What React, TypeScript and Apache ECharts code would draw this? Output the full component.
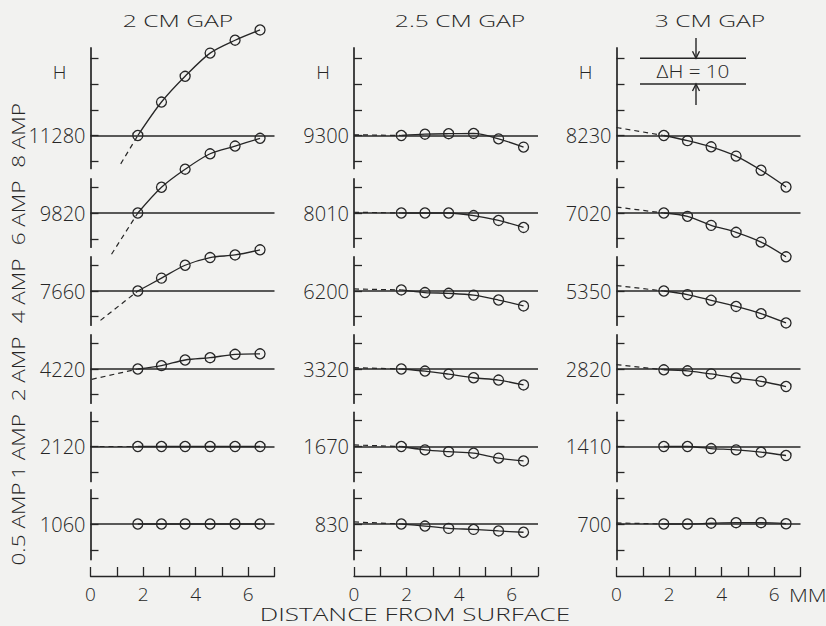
import React, { useEffect, useRef } from "react";
import * as echarts from "echarts";

// ---------- data ----------
const distanceMm = [1.8, 2.7, 3.6, 4.55, 5.5, 6.45];
const currentLabels = ["8 AMP", "6 AMP", "4 AMP", "2 AMP", "1 AMP", "0.5 AMP"];
const gapTitles = ["2 CM GAP", "2.5 CM GAP", "3 CM GAP"];
const xTickLabels = [0, 2, 4, 6];

// 2 cm gap
const baselines2cm = [11280, 9820, 7660, 4220, 2120, 1060];
const h2cm = [
  [11280, 11293, 11303, 11312, 11317, 11321],
  [9820, 9830, 9837, 9843, 9846, 9849],
  [7660, 7665, 7670, 7673, 7674, 7676],
  [4220, 4221.3, 4223.5, 4224.4, 4225.7, 4225.9],
  [2120, 2120, 2120, 2120, 2120, 2120],
  [1060, 1060, 1060, 1060, 1060, 1060],
];
const dash2cm = [[1.15, 11269], [0.8, 9804], [0.38, 7648.6], [0.05, 4216], [0, 2120], null];

// 2.5 cm gap
const baselines25cm = [9300, 8010, 6200, 3320, 1670, 830];
const h25cm = [
  [9300, 9300.5, 9300.7, 9300.8, 9298.7, 9295.5],
  [8010, 8010, 8010, 8009, 8007.1, 8004.4],
  [6200.4, 6199.4, 6199.1, 6198.4, 6196.5, 6194.2],
  [3320, 3319.2, 3318, 3316.6, 3315.7, 3313.8],
  [1670, 1668.7, 1668, 1667.4, 1665.5, 1664.4],
  [830, 829.2, 828.3, 827.9, 827.3, 826.8],
];
const dash25cm = [[0, 9300.3], [0, 8010.3], [0, 6200.8], [0, 3320.5], [0, 1670.6], [0, 830.8]];

// 3 cm gap
const baselines3cm = [8230, 7020, 5350, 2820, 1410, 700];
const h3cm = [
  [8230, 8228, 8225.6, 8222, 8216.5, 8210],
  [7020, 7018.7, 7015.2, 7012.5, 7008.7, 7003],
  [5350, 5348.6, 5346.4, 5344, 5341.2, 5337.6],
  [2819.7, 2819.3, 2818.1, 2816.5, 2815.2, 2813.2],
  [1410, 1410, 1409.2, 1408.7, 1407.8, 1406.5],
  [700, 700, 700.3, 700.5, 700.5, 700.1],
];
const dash3cm = [[0, 8233.1], [0, 7022.3], [0, 5352.1], [0, 2821.7], null, [0, 700.4]];

const panels = [
  { baselines: baselines2cm, values: h2cm, dashFrom: dash2cm },
  { baselines: baselines25cm, values: h25cm, dashFrom: dash25cm },
  { baselines: baselines3cm, values: h3cm, dashFrom: dash3cm },
];

// ---------- layout / style ----------
const INK = "#262626";
const BG = "#f2f2f0";
const FONT = "'Open Sans', 'DejaVu Sans', sans-serif";
const WEIGHT = 300;
const AXIS_LEFT = [90.5, 354, 616.5];
const AXIS_WIDTH = 184;
const BASE_Y = [135.5, 213, 291, 369, 446.5, 524];
const PX_PER_H = 2.575;
const UP = [34, 13.3, 13.3, 13.3, 13.3, 13.3];
const DOWN = [12.8, 13.3, 13.3, 13.3, 13.6, 13.8];
const X_AXIS_Y = 576;
const TITLE_POS = [[178, 20], [460, 20], [710, 20]];

function buildOption() {
  const grid: any[] = [];
  const xAxis: any[] = [];
  const yAxis: any[] = [];
  const series: any[] = [];

  panels.forEach((p, c) => {
    p.baselines.forEach((base, r) => {
      const i = grid.length;
      const top = BASE_Y[r] - UP[r] * PX_PER_H;
      const height = (UP[r] + DOWN[r]) * PX_PER_H;
      grid.push({ left: AXIS_LEFT[c], top, width: AXIS_WIDTH, height, containLabel: false, outerBoundsMode: "none" });
      const isBottom = r === p.baselines.length - 1;
      xAxis.push({
        gridIndex: i,
        type: "value",
        min: 0,
        max: 7,
        interval: 1,
        show: isBottom,
        offset: isBottom ? X_AXIS_Y - (top + height) : 0,
        axisLine: { show: true, onZero: false, lineStyle: { color: INK, width: 1.4 } },
        axisTick: { show: true, inside: true, length: 9, lineStyle: { color: INK, width: 1.3 } },
        axisLabel: {
          show: true,
          margin: 8,
          color: INK,
          fontSize: 19,
          fontWeight: WEIGHT,
          fontFamily: FONT,
          formatter: (v: number) => (xTickLabels.indexOf(v) >= 0 ? String(v) : ""),
        },
        splitLine: { show: false },
      });
      const ticks = r === 0 ? [base - 10, base, base + 10, base + 20, base + 30] : [base - 10, base, base + 10];
      yAxis.push({
        gridIndex: i,
        type: "value",
        min: base - DOWN[r],
        max: base + UP[r],
        axisLine: { show: true, onZero: false, lineStyle: { color: INK, width: 1.7 } },
        axisTick: { show: true, inside: true, length: 8, customValues: ticks, lineStyle: { color: INK, width: 1.3 } },
        axisLabel: {
          show: true,
          customValues: [base],
          formatter: (v: number) => String(Math.round(v)),
          margin: 5,
          fontSize: 20,
          fontWeight: WEIGHT,
          color: INK,
          fontFamily: FONT,
        },
        splitLine: { show: false },
      });
      series.push({
        type: "line",
        xAxisIndex: i,
        yAxisIndex: i,
        data: distanceMm.map((x, k) => [x, p.values[r][k]]),
        smooth: 0.3,
        clip: false,
        symbol: "circle",
        symbolSize: 10,
        itemStyle: { color: "rgba(0,0,0,0)", borderColor: INK, borderWidth: 1.3 },
        lineStyle: { color: INK, width: 1.3 },
        emphasis: { disabled: true },
        silent: true,
        markLine: {
          silent: true,
          symbol: ["none", "none"],
          label: { show: false },
          lineStyle: { color: INK, width: 1.5, type: "solid" },
          data: [{ yAxis: base }],
        },
      });
      const d = p.dashFrom[r];
      if (d) {
        series.push({
          type: "line",
          xAxisIndex: i,
          yAxisIndex: i,
          data: [d, [distanceMm[0], p.values[r][0]]],
          symbol: "none",
          clip: false,
          silent: true,
          lineStyle: { color: INK, width: 1.2, type: [5, 4] },
          emphasis: { disabled: true },
        });
      }
    });
  });

  const txt = (text: string, x: number, y: number, fontSize: number, extra: any = {}, align = "center") => ({
    type: "text",
    x,
    y,
    silent: true,
    ...extra,
    style: { text, fontSize, fontWeight: WEIGHT, fontFamily: FONT, fill: INK, align, verticalAlign: "middle" },
  });

  const graphic: any[] = [];
  gapTitles.forEach((t, c) => graphic.push(txt(t, TITLE_POS[c][0], TITLE_POS[c][1], 17, { scaleX: 1.45 })));
  AXIS_LEFT.forEach((ax) => graphic.push(txt("H", ax - 31, 72, 19)));
  currentLabels.forEach((t, r) => graphic.push(txt(t, 18, BASE_Y[r], 18, { rotation: Math.PI / 2, scaleX: 1.25 })));
  graphic.push(txt("DISTANCE FROM SURFACE", 415, 614, 18, { scaleX: 1.45 }));
  graphic.push(txt("MM", 789, 595, 19, { scaleX: 1.15 }, "left"));

  // ΔH = 10 scale note (panel 3, top)
  const y30 = BASE_Y[0] - 30 * PX_PER_H;
  const y20 = BASE_Y[0] - 20 * PX_PER_H;
  const ax = 696;
  const ln = { stroke: INK, lineWidth: 1.4 };
  graphic.push({ type: "line", silent: true, shape: { x1: 640, y1: y30, x2: 746, y2: y30 }, style: ln });
  graphic.push({ type: "line", silent: true, shape: { x1: 640, y1: y20, x2: 746, y2: y20 }, style: ln });
  graphic.push({ type: "line", silent: true, shape: { x1: ax, y1: 38, x2: ax, y2: y30 }, style: ln });
  graphic.push({ type: "polyline", silent: true, shape: { points: [[ax - 3.5, y30 - 7], [ax, y30], [ax + 3.5, y30 - 7]] }, style: { ...ln, fill: "none" } });
  graphic.push({ type: "line", silent: true, shape: { x1: ax, y1: y20, x2: ax, y2: 105 }, style: ln });
  graphic.push({ type: "polyline", silent: true, shape: { points: [[ax - 3.5, y20 + 7], [ax, y20], [ax + 3.5, y20 + 7]] }, style: { ...ln, fill: "none" } });
  graphic.push(txt("ΔH = 10", 693, (y30 + y20) / 2, 18, { scaleX: 1.15 }));

  return {
    animation: false,
    backgroundColor: BG,
    grid,
    xAxis,
    yAxis,
    series,
    graphic,
  };
}

export default function App() {
  const ref = useRef<HTMLDivElement>(null);
  useEffect(() => {
    if (!ref.current) return;
    const chart = echarts.init(ref.current, null, { renderer: "svg", width: 826, height: 626 });
    chart.setOption(buildOption() as any);
    return () => chart.dispose();
  }, []);
  return (
    <div
      ref={ref}
      style={{ position: "fixed", left: 0, top: 0, width: 826, height: 626, background: BG }}
    />
  );
}
